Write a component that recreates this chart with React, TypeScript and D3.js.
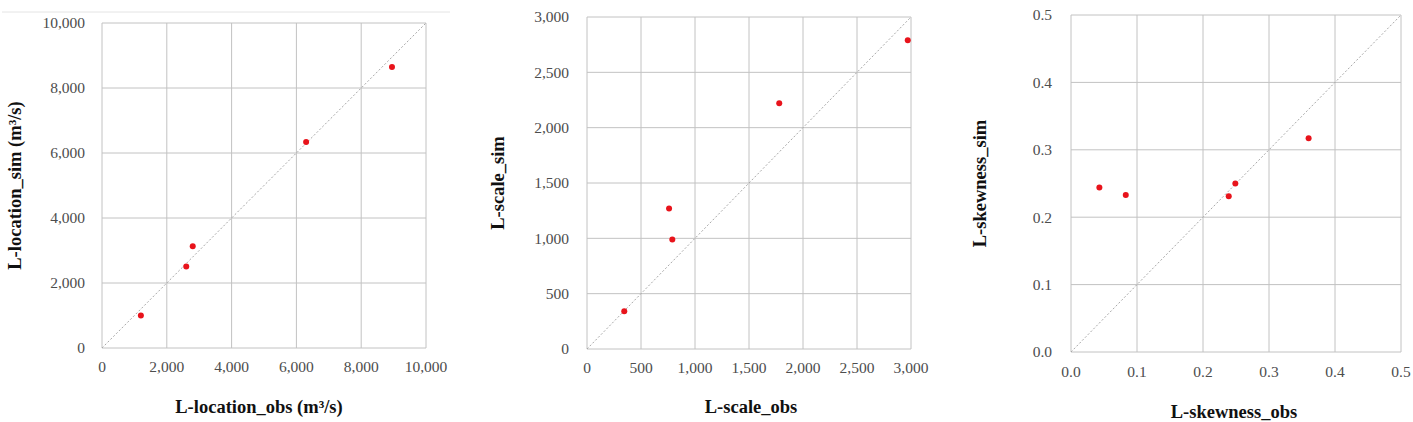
import React from "react";
import * as d3 from "d3";

const locObs = [1200, 2600, 2800, 6300, 8950];
const locSim = [1000, 2510, 3130, 6340, 8650];
const locTicks = [0, 2000, 4000, 6000, 8000, 10000];

const scaleObs = [345, 760, 790, 1780, 2970];
const scaleSim = [340, 1270, 990, 2220, 2790];
const scaleTicks = [0, 500, 1000, 1500, 2000, 2500, 3000];

const skewObs = [0.043, 0.083, 0.239, 0.249, 0.36];
const skewSim = [0.244, 0.233, 0.231, 0.25, 0.317];
const skewTicks = [0, 0.1, 0.2, 0.3, 0.4, 0.5];

const xTitles = ["L-location_obs (m³/s)", "L-scale_obs", "L-skewness_obs"];
const yTitles = ["L-location_sim (m³/s)", "L-scale_sim", "L-skewness_sim"];

type PanelCfg = {
  obs: number[];
  sim: number[];
  ticks: number[];
  fmt: (v: number) => string;
  xTitle: string;
  yTitle: string;
  left: number;
  right: number;
  top: number;
  bottom: number;
  yLabelGap: number;
  xLabelY: number;
  xTitleY: number;
  yTitleX: number;
  xTitleX: number;
};

const FONT = "Liberation Serif, Times New Roman, serif";

function Panel({ c }: { c: PanelCfg }) {
  const dom = d3.extent(c.ticks) as [number, number];
  const x = d3.scaleLinear().domain(dom).range([c.left, c.right]);
  const y = d3.scaleLinear().domain(dom).range([c.bottom, c.top]);
  const diag = d3.line<number>().x((v) => x(v)).y((v) => y(v));
  const yMid = (c.top + c.bottom) / 2;
  return (
    <g>
      {c.ticks.map((t, i) => (
        <g key={"g" + i}>
          <line x1={x(t)} x2={x(t)} y1={c.top} y2={c.bottom} stroke="#c2c2c2" strokeWidth={1} />
          <line x1={c.left} x2={c.right} y1={y(t)} y2={y(t)} stroke="#c2c2c2" strokeWidth={1} />
          <text
            x={c.left - c.yLabelGap}
            y={y(t)}
            dy="0.35em"
            textAnchor="end"
            style={{ fontFamily: FONT, fontSize: "15.5px", fontWeight: 400 }}
            fill="#4d4d4d"
          >
            {c.fmt(t)}
          </text>
          <text
            x={x(t)}
            y={c.xLabelY}
            dy="0.35em"
            textAnchor="middle"
            style={{ fontFamily: FONT, fontSize: "15.5px", fontWeight: 400 }}
            fill="#4d4d4d"
          >
            {c.fmt(t)}
          </text>
        </g>
      ))}
      <path d={diag(dom) || ""} stroke="#a8a8a8" strokeWidth={1} strokeDasharray="2,2" fill="none" />
      {c.obs.map((o, i) => (
        <circle key={"p" + i} cx={x(o)} cy={y(c.sim[i])} r={3} fill="#e8131b" />
      ))}
      <text
        x={c.xTitleX}
        y={c.xTitleY}
        dy="0.35em"
        textAnchor="middle"
        style={{ fontFamily: FONT, fontSize: "18.5px", fontWeight: 700 }}
        fill="#111"
      >
        {c.xTitle}
      </text>
      <text
        transform={`translate(${c.yTitleX},${yMid}) rotate(-90)`}
        dy="0.35em"
        textAnchor="middle"
        style={{ fontFamily: FONT, fontSize: "18.5px", fontWeight: 700 }}
        fill="#111"
      >
        {c.yTitle}
      </text>
    </g>
  );
}

const fmtComma = d3.format(",");
const fmt1 = d3.format(".1f");

const panels: PanelCfg[] = [
  {
    obs: locObs, sim: locSim, ticks: locTicks, fmt: fmtComma,
    xTitle: xTitles[0], yTitle: yTitles[0],
    left: 102, right: 426, top: 23, bottom: 348,
    yLabelGap: 17, xLabelY: 367, xTitleY: 407, yTitleX: 15, xTitleX: 259,
  },
  {
    obs: scaleObs, sim: scaleSim, ticks: scaleTicks, fmt: fmtComma,
    xTitle: xTitles[1], yTitle: yTitles[1],
    left: 587, right: 911, top: 17, bottom: 349,
    yLabelGap: 18, xLabelY: 368, xTitleY: 407, yTitleX: 498, xTitleX: 751,
  },
  {
    obs: skewObs, sim: skewSim, ticks: skewTicks, fmt: fmt1,
    xTitle: xTitles[2], yTitle: yTitles[2],
    left: 1071, right: 1401, top: 15, bottom: 352,
    yLabelGap: 19, xLabelY: 372, xTitleY: 412, yTitleX: 980, xTitleX: 1234,
  },
];

export default function App() {
  return (
    <svg
      width={1413}
      height={422}
      style={{ position: "absolute", left: 0, top: 0, background: "#fff" }}
    >
      <rect x={0} y={0} width={1413} height={422} fill="#fff" />
      <line x1={2} x2={450} y1={12} y2={12} stroke="#e4e4e4" strokeWidth={1} />
      {panels.map((c, i) => (
        <Panel key={i} c={c} />
      ))}
    </svg>
  );
}
